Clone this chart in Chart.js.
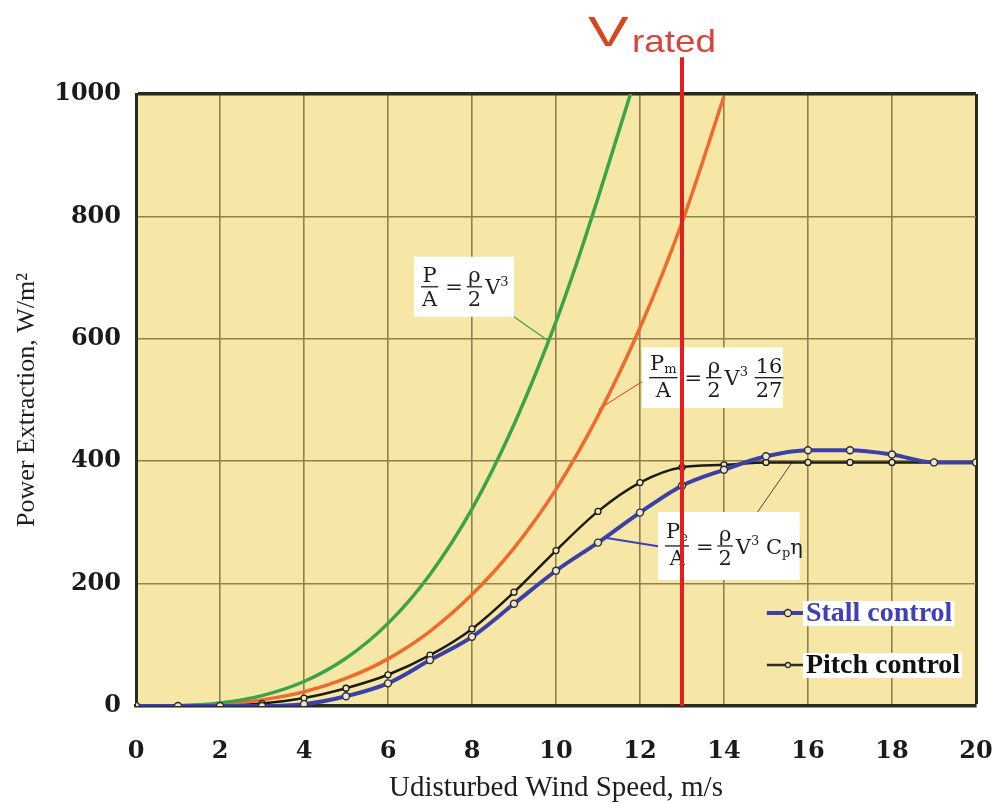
<!DOCTYPE html>
<html>
<head>
    <title>Power Extraction vs Wind Speed</title>
    <script src="https://cdn.jsdelivr.net/npm/chart.js"></script>
    <style>
        body { margin: 0; background: #ffffff; }
        #powerChart { display: block; }
    </style>
</head>
<body>
    <canvas id="powerChart" width="1002" height="803"></canvas>

    <script>
        // data
        const windSpeed = [0, 1, 2, 3, 4, 5, 6, 7, 8, 9, 10, 11, 12, 13, 14, 15, 16, 17, 18, 19, 20];
        const stallPower = [0, 0, 0, 0, 3, 16, 37, 75, 113, 167, 221, 267, 316, 360, 386, 408, 418, 418, 411, 398, 398];
        const pitchPower = [0, 0, 0, 4, 13, 29, 51, 83, 126, 186, 254, 318, 365, 390, 394, 398, 398, 398, 398, 398, 398];

        const idealSpeed = [0, 1, 2, 3, 4, 5, 6, 7, 8, 9, 10, 10.5, 11, 11.5, 11.8];
        const idealPower = [0, 0.6, 5, 17, 40, 78, 135, 215, 322, 460, 628, 725, 830, 940, 1006];

        const betzSpeed = [0, 1, 2, 3, 4, 5, 6, 7, 8, 9, 10, 11, 12, 13, 14];
        const betzPower = [0, 0.4, 3, 10, 23, 45, 77, 122, 182, 258, 354, 474, 618, 790, 996];

        const ratedSpeed = 13;
        const ratedLineSpan = [0, 1060];

        const xTitle = 'Udisturbed Wind Speed, m/s';
        const yTitle = 'Power Extraction, W/m\u00B2';
        const legendNames = ['Stall control', 'Pitch control'];

        function pairs(xs, ys) {
            return xs.map((x, i) => ({ x: x, y: ys[i] }));
        }

        const plotBg = '#f6e7a6';
        const gridCol = '#8e8150';
        const frameCol = '#2b2a1c';
        const eqFont = '"DejaVu Serif", serif';

        // ---- equation helpers ----
        function runsWidth(ctx, runs, size) {
            let w = 0;
            runs.forEach(r => {
                const s = r.sub || r.sup ? size * 0.62 : size;
                ctx.font = s + 'px ' + eqFont;
                w += ctx.measureText(r.s).width;
            });
            return w;
        }
        function drawRuns(ctx, runs, x, base, size) {
            runs.forEach(r => {
                const s = r.sub || r.sup ? size * 0.62 : size;
                ctx.font = s + 'px ' + eqFont;
                let y = base;
                if (r.sub) y += size * 0.15;
                if (r.sup) y -= size * 0.42;
                ctx.fillText(r.s, x, y);
                x += ctx.measureText(r.s).width;
            });
            return x;
        }
        function drawEquation(ctx, parts, x, mid, size) {
            ctx.fillStyle = '#1e1e1e';
            ctx.strokeStyle = '#1e1e1e';
            ctx.textAlign = 'left';
            ctx.textBaseline = 'alphabetic';
            parts.forEach(p => {
                if (p.num) {
                    const nw = runsWidth(ctx, p.num, size);
                    const dw = runsWidth(ctx, p.den, size);
                    const w = Math.max(nw, dw) + 2;
                    const lift = p.num.some(r => r.sub) ? 8 : 5;
                    drawRuns(ctx, p.num, x + (w - nw) / 2, mid - lift, size);
                    drawRuns(ctx, p.den, x + (w - dw) / 2, mid + size * 0.76 + 3, size);
                    ctx.lineWidth = 1.3;
                    ctx.beginPath();
                    ctx.moveTo(x, mid);
                    ctx.lineTo(x + w, mid);
                    ctx.stroke();
                    x += w + 3;
                } else {
                    x = drawRuns(ctx, p.runs, x + (p.gap || 0), mid + size * 0.36, size) + (p.gap || 0);
                }
            });
        }

        const equations = [
            {
                box: [6.62, 734, 9.0, 636],
                leader: [[9.0, 636], [9.83, 596]], leaderColor: '#3da348', leaderWidth: 1.2,
                parts: [
                    { num: [{ s: 'P' }], den: [{ s: 'A' }] },
                    { runs: [{ s: '=' }], gap: 4 },
                    { num: [{ s: '\u03C1' }], den: [{ s: '2' }] },
                    { runs: [{ s: 'V' }, { s: '3', sup: true }] }
                ]
            },
            {
                box: [12.05, 586, 15.4, 487],
                leader: [[12.05, 530], [11.02, 485]], leaderColor: '#e0322a', leaderWidth: 1,
                parts: [
                    { num: [{ s: 'P' }, { s: 'm', sub: true }], den: [{ s: 'A' }] },
                    { runs: [{ s: '=' }], gap: 4 },
                    { num: [{ s: '\u03C1' }], den: [{ s: '2' }] },
                    { runs: [{ s: 'V' }, { s: '3', sup: true }, { s: ' ' }] },
                    { num: [{ s: '16' }], den: [{ s: '27' }] }
                ]
            },
            {
                box: [12.43, 317, 15.8, 206],
                leader: [[12.43, 261], [11.17, 275]], leaderColor: '#3b3fb8', leaderWidth: 2,
                parts: [
                    { num: [{ s: 'P' }, { s: 'e', sub: true }], den: [{ s: 'A' }] },
                    { runs: [{ s: '=' }], gap: 4 },
                    { num: [{ s: '\u03C1' }], den: [{ s: '2' }] },
                    { runs: [{ s: 'V' }, { s: '3', sup: true }, { s: ' C' }, { s: 'p', sub: true }, { s: '\u03B7' }] }
                ]
            }
        ];
        const pitchLeader = [[14.8, 317], [15.64, 400]];

        const decorPlugin = {
            id: 'decor',
            beforeDraw(chart) {
                const { ctx, chartArea: a } = chart;
                ctx.save();
                ctx.fillStyle = plotBg;
                ctx.fillRect(a.left, a.top, a.right - a.left, a.bottom - a.top);
                ctx.restore();
            },
            beforeDatasetsDraw(chart) {
                const { ctx, scales: { x, y } } = chart;
                ctx.save();
                equations.forEach(eq => {
                    const [x0, y0, x1, y1] = eq.box;
                    const L = x.getPixelForValue(x0), T = y.getPixelForValue(y0);
                    const R = x.getPixelForValue(x1), B = y.getPixelForValue(y1);
                    ctx.fillStyle = '#ffffff';
                    ctx.fillRect(L, T, R - L, B - T);
                    drawEquation(ctx, eq.parts, L + 7, (T + B) / 2, 21);
                    ctx.strokeStyle = eq.leaderColor;
                    ctx.lineWidth = eq.leaderWidth;
                    ctx.beginPath();
                    ctx.moveTo(x.getPixelForValue(eq.leader[0][0]), y.getPixelForValue(eq.leader[0][1]));
                    ctx.lineTo(x.getPixelForValue(eq.leader[1][0]), y.getPixelForValue(eq.leader[1][1]));
                    ctx.stroke();
                });
                ctx.strokeStyle = '#4a4a3a';
                ctx.lineWidth = 1;
                ctx.beginPath();
                ctx.moveTo(x.getPixelForValue(pitchLeader[0][0]), y.getPixelForValue(pitchLeader[0][1]));
                ctx.lineTo(x.getPixelForValue(pitchLeader[1][0]), y.getPixelForValue(pitchLeader[1][1]));
                ctx.stroke();
                ctx.restore();
            },
            afterDatasetsDraw(chart) {
                const { ctx, scales: { x, y } } = chart;
                ctx.save();
                // legend
                const items = [
                    { name: legendNames[0], val: 152, color: '#3f42b0', line: '#3b3fa8', lw: 4, r: 3.5 },
                    { name: legendNames[1], val: 67, color: '#111111', line: '#2e2e1e', lw: 2.5, r: 2.5 }
                ];
                ctx.font = 'bold 28px "Liberation Serif", serif';
                ctx.textBaseline = 'middle';
                ctx.textAlign = 'left';
                items.forEach(it => {
                    const tx = x.getPixelForValue(15.95);
                    const ty = y.getPixelForValue(it.val);
                    const w = ctx.measureText(it.name).width;
                    ctx.fillStyle = '#ffffff';
                    ctx.fillRect(tx - 3, ty - 12, w + 5, 25);
                    ctx.fillStyle = it.color;
                    ctx.fillText(it.name, tx, ty + 1);
                    const lx0 = x.getPixelForValue(15.02), lx1 = x.getPixelForValue(15.88);
                    ctx.strokeStyle = it.line;
                    ctx.lineWidth = it.lw;
                    ctx.beginPath();
                    ctx.moveTo(lx0, ty);
                    ctx.lineTo(lx1, ty);
                    ctx.stroke();
                    ctx.fillStyle = '#ece6c6';
                    ctx.strokeStyle = '#2a2a30';
                    ctx.lineWidth = 1.3;
                    ctx.beginPath();
                    ctx.arc((lx0 + lx1) / 2 + 3, ty, it.r, 0, Math.PI * 2);
                    ctx.fill();
                    ctx.stroke();
                });
                // V rated label
                const rx = x.getPixelForValue(ratedSpeed);
                ctx.textBaseline = 'alphabetic';
                ctx.fillStyle = '#d6461f';
                ctx.font = '42px "Liberation Sans", sans-serif';
                ctx.save();
                ctx.translate(rx - 94, 46);
                ctx.scale(1.45, 1);
                ctx.fillText('V', 0, 0);
                ctx.restore();
                ctx.fillStyle = '#d6443a';
                ctx.font = '32px "Liberation Sans", sans-serif';
                ctx.save();
                ctx.translate(rx - 50, 52);
                ctx.scale(1.15, 1);
                ctx.fillText('rated', 0, 0);
                ctx.restore();
                ctx.restore();
            }
        };

        const tickFont = { family: '"DejaVu Serif", serif', size: 24, weight: 'bold' };

        const ctx = document.getElementById('powerChart').getContext('2d');
        const powerChart = new Chart(ctx, {
            type: 'line',
            data: {
                datasets: [
                    {
                        label: 'V rated',
                        data: pairs([ratedSpeed, ratedSpeed], ratedLineSpan),
                        borderColor: '#e41e1e',
                        borderWidth: 4,
                        pointRadius: 0,
                        clip: false
                    },
                    {
                        label: legendNames[0],
                        data: pairs(windSpeed, stallPower),
                        borderColor: '#3b3fa8',
                        borderWidth: 4,
                        cubicInterpolationMode: 'monotone',
                        pointRadius: 3.5,
                        pointBackgroundColor: '#ece6c6',
                        pointBorderColor: '#2a2a40',
                        pointBorderWidth: 1.4
                    },
                    {
                        label: legendNames[1],
                        data: pairs(windSpeed, pitchPower),
                        borderColor: '#1c1c14',
                        borderWidth: 2.5,
                        cubicInterpolationMode: 'monotone',
                        pointRadius: 3,
                        pointBackgroundColor: '#ece6c6',
                        pointBorderColor: '#1c1c14',
                        pointBorderWidth: 1.3
                    },
                    {
                        label: 'P/A',
                        data: pairs(idealSpeed, idealPower),
                        borderColor: '#3da348',
                        borderWidth: 3.5,
                        cubicInterpolationMode: 'monotone',
                        pointRadius: 0
                    },
                    {
                        label: 'Pm/A',
                        data: pairs(betzSpeed, betzPower),
                        borderColor: '#ee6a2e',
                        borderWidth: 3.5,
                        cubicInterpolationMode: 'monotone',
                        pointRadius: 0
                    }
                ]
            },
            options: {
                responsive: false,
                animation: false,
                layout: { padding: { top: 94, right: 26, left: 0, bottom: 0 } },
                plugins: {
                    legend: { display: false },
                    tooltip: { enabled: false }
                },
                scales: {
                    x: {
                        type: 'linear',
                        min: 0,
                        max: 20,
                        afterFit: s => { s.height = 97; s.paddingLeft = 0; s.paddingRight = 0; },
                        ticks: {
                            stepSize: 2,
                            padding: 31,
                            color: '#1a1a1a',
                            font: tickFont,
                            callback: v => String(v)
                        },
                        grid: {
                            drawTicks: false,
                            color: c => c.tick && c.tick.value === 20 ? frameCol : gridCol,
                            lineWidth: c => c.tick && c.tick.value === 20 ? 3 : 1.6
                        },
                        border: { display: true, color: frameCol, width: 3.5 },
                        title: {
                            display: true,
                            text: xTitle,
                            color: '#1e1e1e',
                            padding: { top: 0, bottom: 0 },
                            font: { family: '"Liberation Serif", serif', size: 29, lineHeight: 1 }
                        }
                    },
                    y: {
                        min: 0,
                        max: 1000,
                        afterFit: s => { s.width = 136; s.paddingTop = 0; s.paddingBottom = 0; },
                        ticks: {
                            stepSize: 200,
                            padding: 15,
                            color: '#1a1a1a',
                            font: tickFont,
                            callback: v => String(v)
                        },
                        grid: {
                            drawTicks: false,
                            color: c => c.tick && c.tick.value === 1000 ? frameCol : gridCol,
                            lineWidth: c => c.tick && c.tick.value === 1000 ? 3.5 : 1.6
                        },
                        border: { display: true, color: frameCol, width: 3 },
                        title: {
                            display: true,
                            text: yTitle,
                            color: '#1e1e1e',
                            padding: { top: 12, bottom: 0 },
                            font: { family: '"Liberation Serif", serif', size: 26 }
                        }
                    }
                }
            },
            plugins: [decorPlugin]
        });
    </script>
</body>
</html>
